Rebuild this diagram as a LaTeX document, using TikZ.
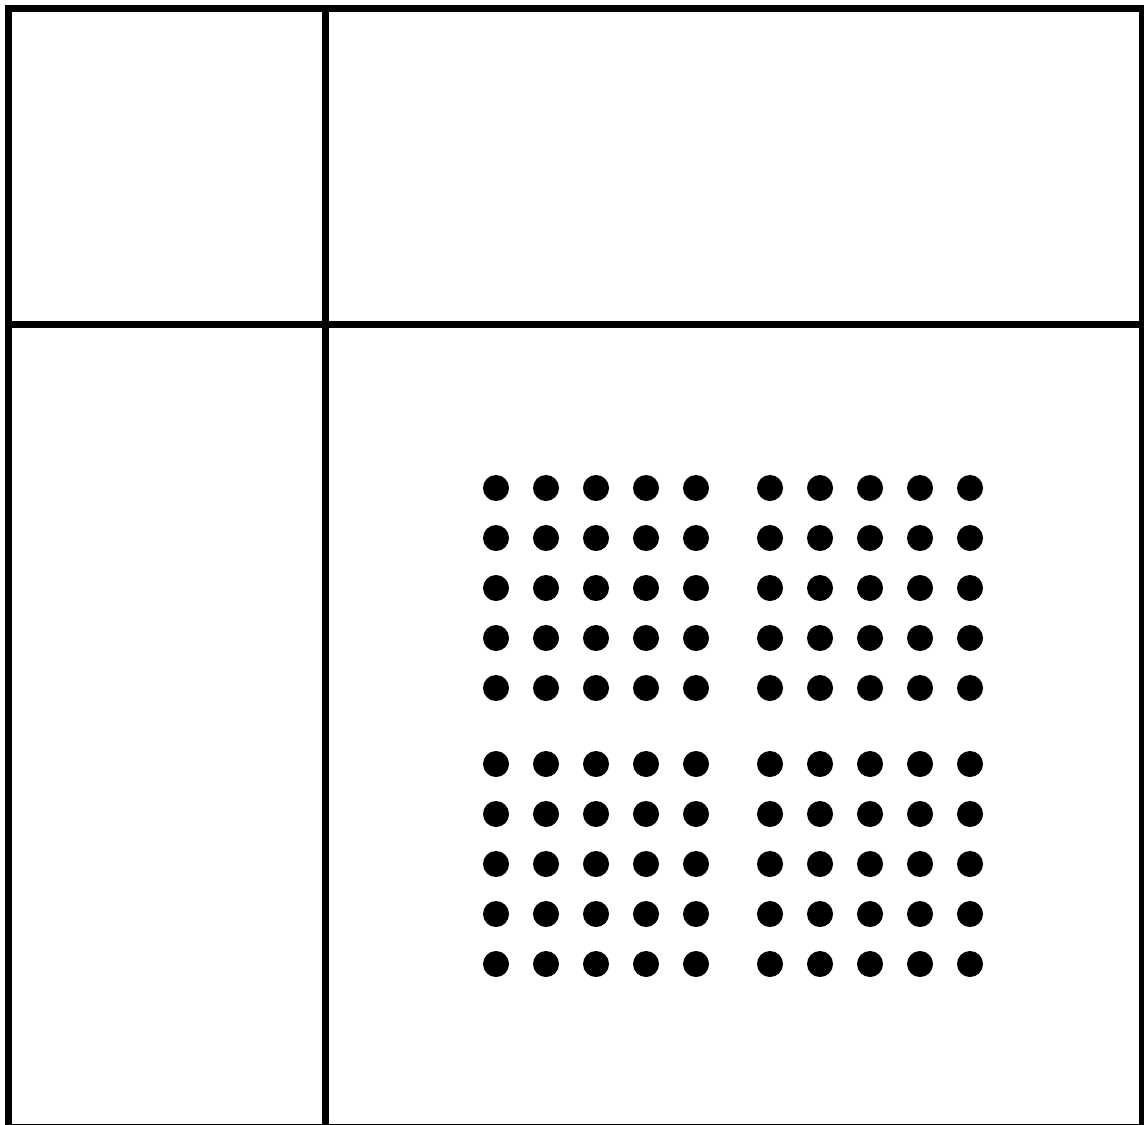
\documentclass[tikz,border=0pt]{standalone}
\usepackage{tikz}
\usetikzlibrary{positioning}

\begin{document}
\begin{tikzpicture}[x=0.5pt, y=-0.5pt,
  frame/.style={draw=black, line width=3.5pt},
  dot/.style={circle, fill=black, inner sep=0pt, minimum size=13pt}]
\useasboundingbox (0,0) rectangle (1144,1124);
% Grid
\coordinate (tl) at (8,8);
\coordinate (br) at (1142.5,1127);
\draw[frame] (tl) rectangle (br);
\draw[frame] (325.5,8) -- (325.5,1127);
\draw[frame] (8,324.5) -- (1142.5,324.5);
% Dots
\foreach \bx/\by in {496/488, 770/488, 496/764, 770/764} {
  \foreach \i in {0,...,4} {
    \foreach \j in {0,...,4} {
      \node[dot] (d-\bx-\by-\i-\j) at (\bx+50*\i, \by+50*\j) {};
    }
  }
}
\end{tikzpicture}
\end{document}
